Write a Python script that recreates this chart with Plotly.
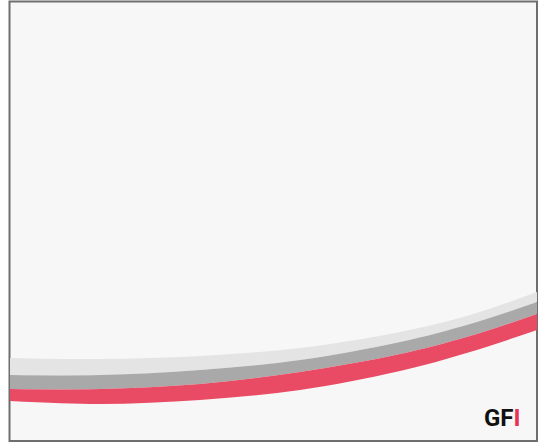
import plotly.graph_objects as go

# sample positions along the width (pixels in the 539x445 frame)
xs = [10, 100, 200, 300, 400, 470, 537]
# band boundary heights (y grows downward)
light_top = [358, 359, 356, 348, 332, 315, 292]
light_bottom = [375, 375, 370, 360, 342, 324, 302]
dark_bottom = [389, 389, 384, 372, 354, 336, 314]
red_bottom = [401, 404, 400, 390, 371, 352, 330]

band_names = ["light", "dark", "red"]
band_colors = ["#e4e4e4", "#a9a9a9", "#e94b65"]

fig = go.Figure()
fig.add_trace(go.Scatter(x=xs, y=light_top, mode="lines", line=dict(width=0, shape="spline"),
                         hoverinfo="skip", showlegend=False))
for name, col, ys in zip(band_names, band_colors, [light_bottom, dark_bottom, red_bottom]):
    fig.add_trace(go.Scatter(x=xs, y=ys, mode="lines", name=name,
                             line=dict(width=0, shape="spline"),
                             fill="tonexty", fillcolor=col,
                             hoverinfo="skip", showlegend=False))

fig.update_layout(
    width=539, height=445,
    margin=dict(l=0, r=0, t=0, b=0),
    paper_bgcolor="white",
    plot_bgcolor="white",
    xaxis=dict(range=[0, 539], visible=False, fixedrange=True),
    yaxis=dict(range=[445, 0], visible=False, fixedrange=True),
    shapes=[dict(type="rect", xref="x", yref="y", x0=9.5, x1=537, y0=1.5, y1=441,
                 fillcolor="#f7f7f7", line=dict(color="#6e6e6e", width=2), layer="below")],
    annotations=[dict(x=523, y=418, xref="x", yref="y", xanchor="right", yanchor="middle",
                      text="<b>GF<span style='color:#e8324f'>I</span></b>", showarrow=False,
                      font=dict(family="Roboto, Liberation Sans", size=24, color="#111111"))],
)
fig.write_html("out.html", config={"displayModeBar": False},
               post_script="document.body.style.margin='0';document.body.style.overflow='hidden';")
